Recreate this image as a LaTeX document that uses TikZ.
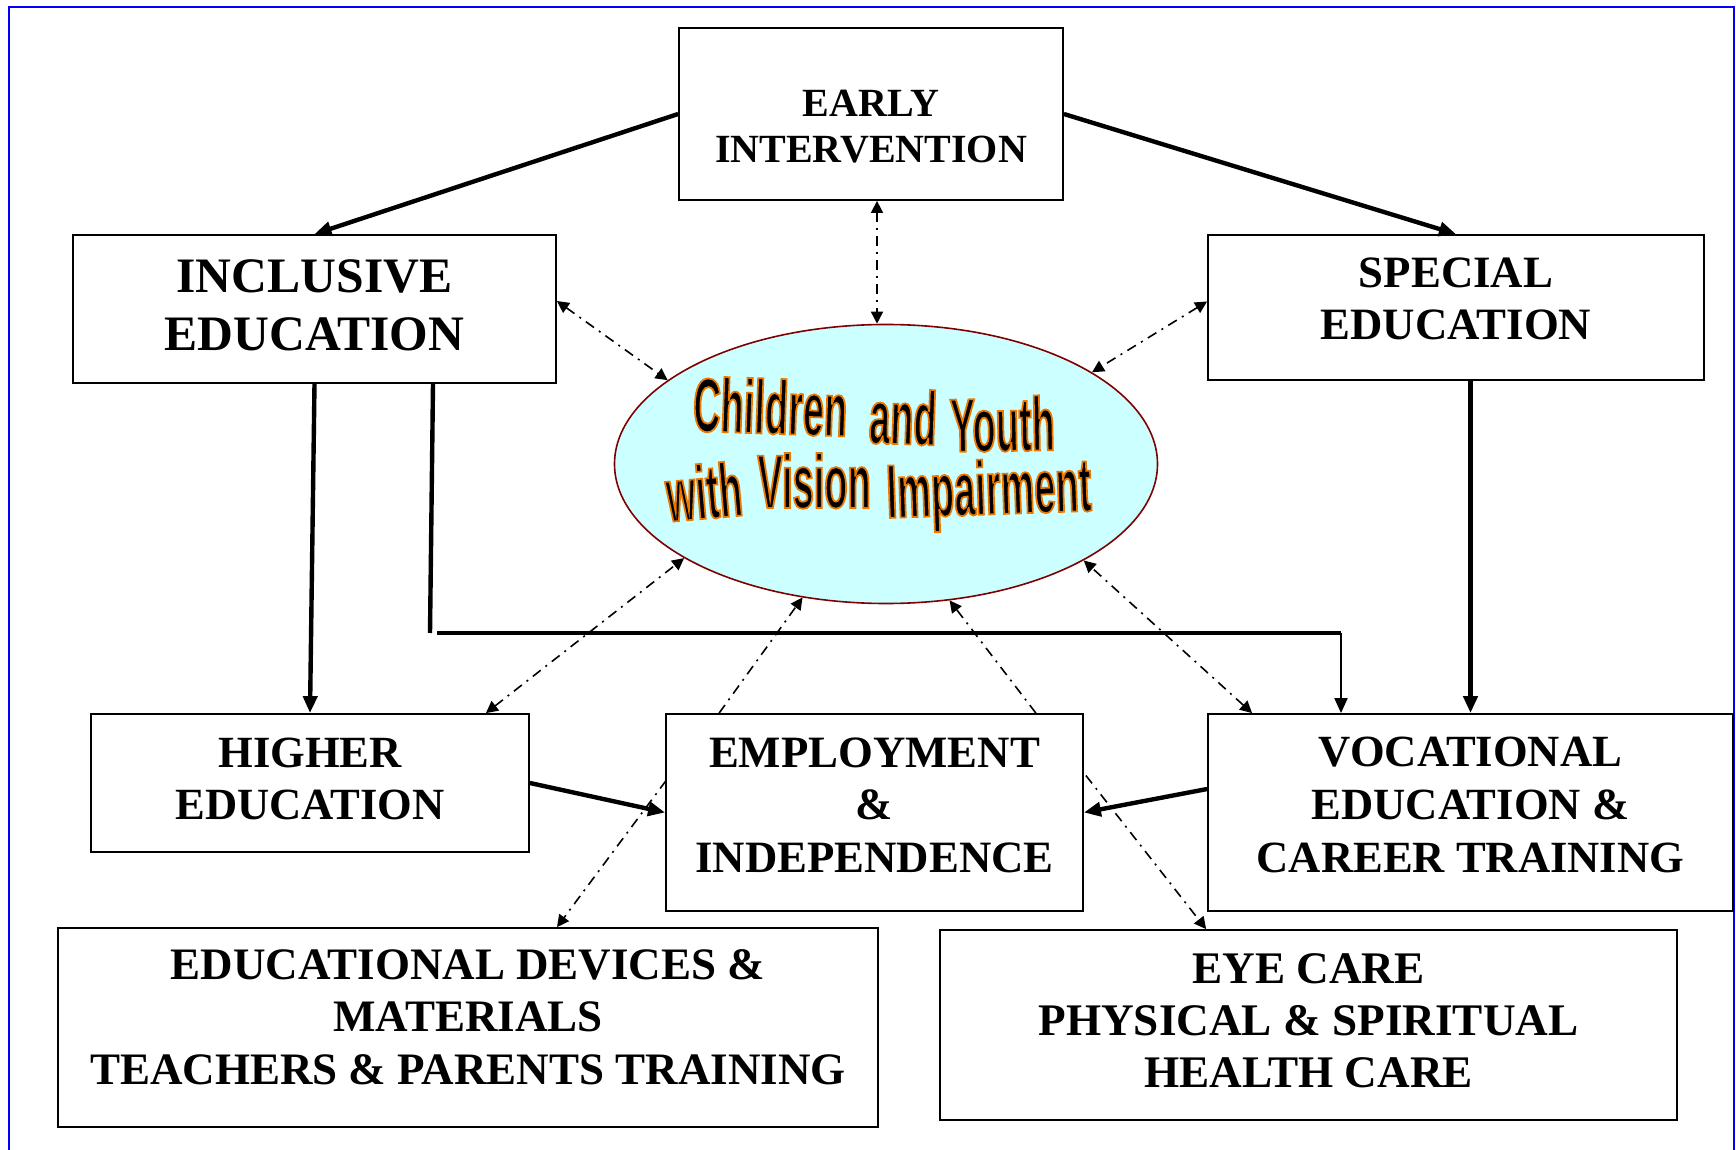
\documentclass[tikz,border=0pt]{standalone}
\usepackage{fontspec}
\setmainfont{Liberation Serif}
\newfontfamily\wafont[FakeStretch=0.5,BoldFeatures={FakeBold=2.3}]{Liberation Sans}
\usetikzlibrary{arrows.meta,shapes.geometric,calc,fit}
\definecolor{ellfill}{RGB}{204,255,255}
\definecolor{ellline}{RGB}{128,0,0}
\definecolor{frameblue}{RGB}{0,0,255}
\newcommand\orangeedge[1]{\special{pdf:literal direct 0.92 0.47 0 RG}#1}
\tikzset{
  box/.style={draw, line width=0.9pt, inner sep=0pt},
  lbl/.style={align=center, inner sep=0pt, anchor=north},
  solidarr/.style={line width=2.2pt, -{Triangle[length=8.5pt,width=7pt]}},
  thickline/.style={line width=2.2pt},
  thinarr/.style={line width=1pt, -{Triangle[length=7.5pt,width=6.5pt]}},
  ddline/.style={line width=0.8pt, dash pattern=on 5pt off 3pt on 1pt off 3pt},
  ddboth/.style={ddline, {Triangle[length=6pt,width=6pt]}-{Triangle[length=6pt,width=6pt]}},
  ddend/.style={ddline, -{Triangle[length=6pt,width=6pt]}},
  wa/.style={anchor=base west, inner sep=0pt, font=\wafont\bfseries\fontsize{38}{38}\selectfont},
}
\begin{document}
\begin{tikzpicture}[x=0.5pt,y=-0.5pt]
\useasboundingbox (0,0) rectangle (1736,1150);
% blue frame
\draw[frameblue, line width=1.2pt] (9,1150) -- (9,7) -- (1734,7) -- (1734,1150);

% boxes
\node[box, fit={(679,28) (1063,200)}] (early) {};
\node[box, fit={(73,235) (556,383)}] (incl) {};
\node[box, fit={(1208,235) (1704,380)}] (spec) {};
\node[box, fit={(91,714) (529,852)}] (higher) {};
\node[box, fit={(666,714) (1083,911)}] (emp) {};
\node[box, fit={(1208,714) (1733,911)}] (voc) {};
\node[box, fit={(58,928) (878,1127)}] (edu) {};
\node[box, fit={(940,930) (1677,1120)}] (eye) {};

% ellipse
\node[ellipse, draw=ellline, fill=ellfill, line width=0.8pt, inner sep=0pt,
      minimum width=271.5pt, minimum height=139.5pt] (cyv) at (886,464) {};

% box texts
\node[lbl, font=\bfseries\fontsize{20}{23}\selectfont] (earlyT) at (871,89.5) {EARLY\\INTERVENTION};
\node[lbl, font=\bfseries\fontsize{24.8}{29}\selectfont] (inclT) at (314.5,259) {INCLUSIVE\\EDUCATION};
\node[lbl, font=\bfseries\fontsize{22.4}{26}\selectfont] (specT) at (1456,257) {SPECIAL\\EDUCATION};
\node[lbl, font=\bfseries\fontsize{22.3}{26}\selectfont] (higherT) at (310,737.5) {HIGHER\\EDUCATION};
\node[lbl, font=\bfseries\fontsize{22.4}{26.3}\selectfont] (empT) at (874.5,737) {EMPLOYMENT\\\&\\INDEPENDENCE};
\node[lbl, font=\bfseries\fontsize{22.3}{26.3}\selectfont] (vocT) at (1470.5,737) {VOCATIONAL\\EDUCATION \&\\CAREER TRAINING};
\node[lbl, font=\bfseries\fontsize{22.5}{26.25}\selectfont] (eduT) at (468,949) {EDUCATIONAL DEVICES \&\\MATERIALS\\TEACHERS \& PARENTS TRAINING};
\node[lbl, font=\bfseries\fontsize{22.6}{26}\selectfont] (eyeT) at (1308.5,953) {EYE CARE\\PHYSICAL \& SPIRITUAL\\HEALTH CARE};

% solid connectors
\draw[solidarr] (early.west) -- (incl.north);
\draw[solidarr] (early.east) -- (spec.north);
\draw[solidarr] (incl.south) -- (higher.north);
\coordinate (k1) at (430,633);
\coordinate (k2) at (437,633);
\coordinate (k3) at (1341,633);
\draw[thickline] ($(incl.south)+(118.5,0)$) -- (k1);
\draw[thickline] (k2) -- (k3);
\draw[thinarr] (k3) -- (k3 |- voc.north);
\draw[solidarr] (spec.south -| voc.north) -- (voc.north);
\draw[solidarr] (higher.east) -- (emp.west);
\draw[solidarr] ($(voc.west)+(0,-23.5)$) -- (emp.east);

% dash-dot connectors
\coordinate (eb) at ($(early.south)+(6,0)$);
\draw[ddboth] (eb) -- (eb |- cyv.north);
\draw[ddboth] ($(incl.east)+(0,-8)$) -- (cyv.159);
\draw[ddboth] ($(spec.west)+(0,-6)$) -- (cyv.24);
\draw[ddboth] ($(higher.north east)+(-44,0)$) -- (cyv.205);
\draw[ddend] ($(emp.north west)+(54,0)$) -- (cyv.238);
\draw[ddend] ($(emp.north east)+(-48,0)$) -- (cyv.295);
\draw[ddboth] ($(voc.north west)+(45,0)$) -- (cyv.334);
\draw[ddend] ($(emp.west)+(1,-32)$) -- ($(edu.north)+(89,0)$);
\draw[ddend] ($(emp.east)+(2,-37)$) -- ($(eye.north west)+(267,0)$);

% word art
\node[wa, rotate=-2] (w1) at (692,431) {\orangeedge{Children}};
\node[wa, rotate=-2] (w2) at (868,443) {\orangeedge{and}};
\node[wa, rotate=1] (w3) at (950,452) {\orangeedge{Youth}};
\node[wa, rotate=5] (w4) at (668,522) {\orangeedge{with}};
\node[wa, rotate=0] (w5) at (757,508) {\orangeedge{Vision}};
\node[wa, rotate=2] (w6) at (887,518) {\orangeedge{Impairment}};
\end{tikzpicture}
\end{document}
